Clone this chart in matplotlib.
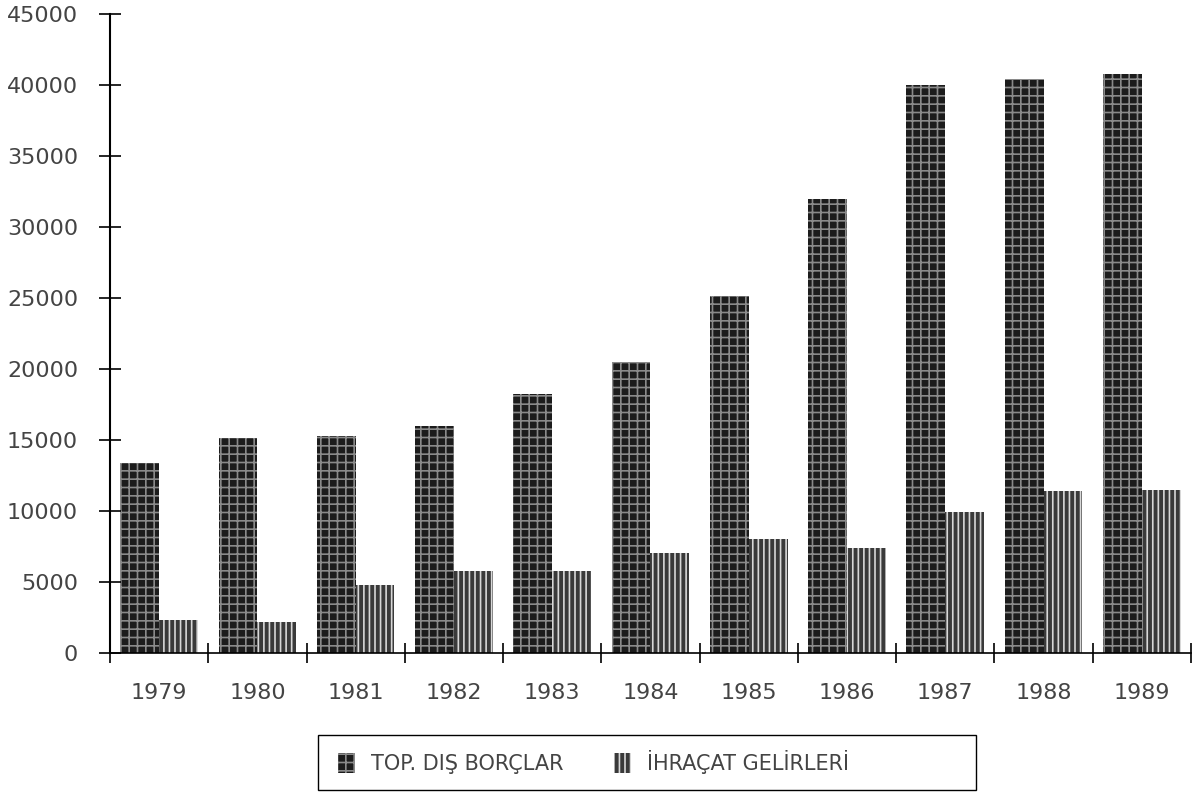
import numpy as np
import matplotlib
matplotlib.use("Agg")
import matplotlib.pyplot as plt
from matplotlib.patches import Rectangle

# veriler (milyon $)
years = ["1979", "1980", "1981", "1982", "1983", "1984",
         "1985", "1986", "1987", "1988", "1989"]
dis_borclar = [13400, 15100, 15300, 16000, 18250, 20500,
               25150, 32000, 40000, 40400, 40800]
ihracat = [2300, 2200, 4750, 5750, 5750, 7050,
           8000, 7400, 9950, 11400, 11450]

plt.rcParams['font.family'] = ['DejaVu Sans']
plt.rcParams['hatch.linewidth'] = 1.2

fig = plt.figure(figsize=(12.01, 7.98), dpi=100)
ax = fig.add_axes([0.0916, 0.182, 0.9, 0.8005])

x = np.arange(len(years))
w = 0.395
ax.bar(x - w / 2, dis_borclar, w, color='#1c1c1c', edgecolor='#8a8a8a',
       hatch='++', linewidth=0, label='TOP. DIŞ BORÇLAR')
ax.bar(x + w / 2, ihracat, w, color='#3a3a3a', edgecolor='#d8d8d8',
       hatch='|||', linewidth=0, label='İHRAÇAT GELİRLERİ')

ax.set_xlim(-0.5, len(years) - 0.5)
ax.set_ylim(0, 45000)
ax.set_yticks(np.arange(0, 45001, 5000))
ax.set_yticklabels([str(v) for v in range(0, 45001, 5000)])

# kategori sınırlarında tik
ax.set_xticks(np.arange(-0.5, len(years), 1.0))
ax.set_xticklabels([])
ax.set_xticks(x, minor=True)
ax.set_xticklabels(years, minor=True)
ax.tick_params(axis='x', which='minor', length=0, pad=22,
               labelsize=16, labelcolor='#444444')
ax.tick_params(axis='x', which='major', direction='inout', length=14,
               width=1.2)
ax.tick_params(axis='y', direction='inout', length=16, width=1.2,
               pad=15, labelsize=16, labelcolor='#444444')

ax.spines['top'].set_visible(False)
ax.spines['right'].set_visible(False)
ax.spines['left'].set_linewidth(1.5)
ax.spines['bottom'].set_linewidth(1.2)

# lejant: çerçeve ayrı çiziliyor
leg = ax.legend(loc='center left', bbox_to_anchor=(0.211, -0.171), ncol=2,
                frameon=False, fontsize=15, handlelength=0.8,
                handleheight=1.1, columnspacing=2.4, borderpad=0,
                borderaxespad=0, handletextpad=0.8)
for t in leg.get_texts():
    t.set_color('#444444')
box = Rectangle((0.1926, -0.2144), 0.6083, 0.0861, transform=ax.transAxes,
                fill=False, edgecolor='black', linewidth=1.0, clip_on=False)
ax.add_patch(box)

fig.savefig("out.png", dpi=100)
